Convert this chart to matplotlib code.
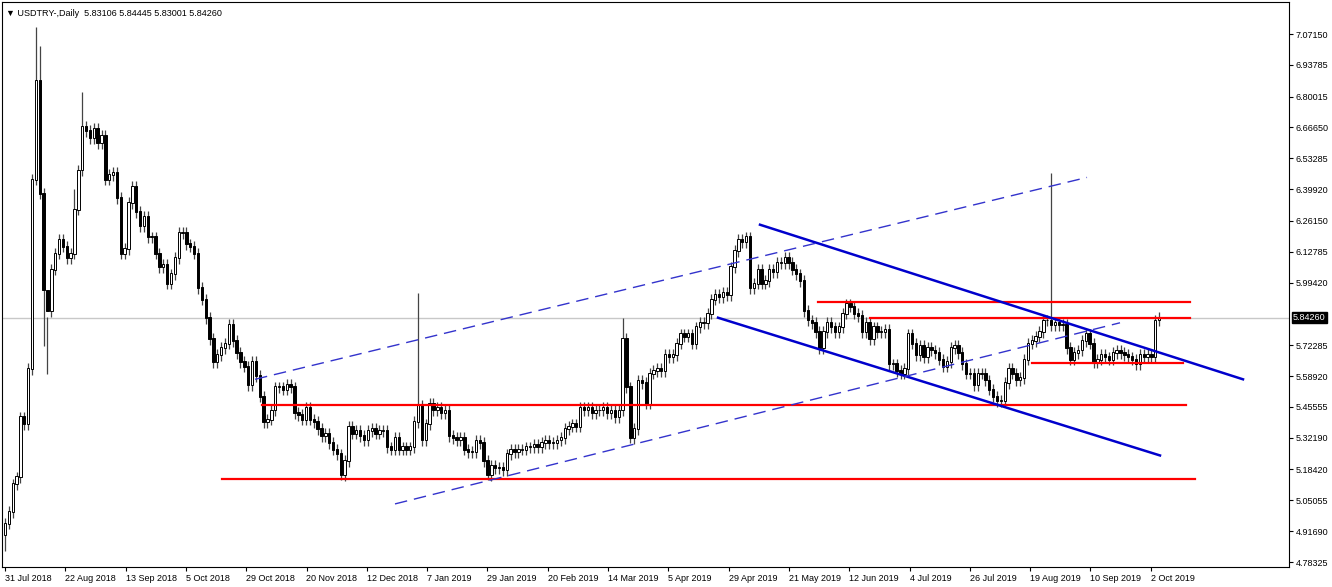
import matplotlib
matplotlib.use("Agg")
import matplotlib.pyplot as plt
import numpy as np

plt.rcParams["font.family"] = ["Liberation Sans", "DejaVu Sans"]

# daily closes (open = previous close)
CLOSES = [
    4.95, 5.00, 5.12, 5.15, 5.41, 5.38, 5.62,
    6.44, 6.87, 6.38, 5.96, 5.87, 6.05, 6.12, 6.18, 6.15, 6.10,
    6.12, 6.31, 6.48, 6.67, 6.65, 6.62, 6.66, 6.60, 6.63, 6.44,
    6.46, 6.47, 6.36, 6.12, 6.14, 6.34, 6.41, 6.30, 6.24, 6.28,
    6.19, 6.19, 6.12, 6.06, 6.07, 5.99, 6.03, 6.10, 6.21, 6.21,
    6.16, 6.15, 6.12, 5.97, 5.92, 5.84, 5.75, 5.65, 5.68, 5.71,
    5.73, 5.81, 5.74, 5.69, 5.65, 5.63, 5.55, 5.65, 5.59, 5.50,
    5.39, 5.40, 5.44, 5.54, 5.54, 5.53, 5.55, 5.54, 5.43, 5.42,
    5.40, 5.45, 5.40, 5.39, 5.36, 5.33, 5.34, 5.30, 5.27, 5.25,
    5.16, 5.22, 5.37, 5.34, 5.35, 5.33, 5.31, 5.35, 5.36, 5.34,
    5.35, 5.35, 5.28, 5.27, 5.32, 5.27, 5.28, 5.27, 5.28, 5.39,
    5.46, 5.31, 5.38, 5.47, 5.44, 5.45, 5.43, 5.44, 5.33, 5.32,
    5.31, 5.32, 5.27, 5.26, 5.26, 5.31, 5.30, 5.22, 5.16, 5.20,
    5.19, 5.19, 5.18, 5.25, 5.27, 5.26, 5.27, 5.27, 5.28, 5.28,
    5.29, 5.28, 5.30, 5.31, 5.30, 5.30, 5.31, 5.32, 5.36, 5.37,
    5.38, 5.37, 5.45, 5.44, 5.45, 5.43, 5.44, 5.44, 5.45, 5.43,
    5.44, 5.41, 5.44, 5.75, 5.54, 5.32, 5.36, 5.57, 5.56, 5.47,
    5.60, 5.61, 5.62, 5.61, 5.68, 5.67, 5.68, 5.73, 5.77, 5.76,
    5.77, 5.73, 5.80, 5.82, 5.82, 5.86, 5.92, 5.94, 5.93, 5.95,
    5.94, 6.06, 6.13, 6.18, 6.17, 6.19, 5.97, 5.99, 6.05, 5.99,
    6.00, 6.05, 6.04, 6.08, 6.08, 6.10, 6.08, 6.05, 6.03, 6.00,
    5.87, 5.83, 5.82, 5.78, 5.71, 5.78, 5.82, 5.80, 5.78, 5.80,
    5.86, 5.90, 5.89, 5.86, 5.85, 5.78, 5.82, 5.75, 5.80, 5.78,
    5.78, 5.79, 5.64, 5.64, 5.61, 5.60, 5.62, 5.77, 5.73, 5.68,
    5.72, 5.67, 5.71, 5.70, 5.69, 5.66, 5.63, 5.65, 5.71, 5.72,
    5.69, 5.64, 5.60, 5.60, 5.55, 5.60, 5.60, 5.57, 5.53, 5.50,
    5.48, 5.48, 5.56, 5.62, 5.60, 5.57, 5.58, 5.66, 5.73, 5.74,
    5.76, 5.78, 5.83, 5.83, 5.81, 5.82, 5.81, 5.81, 5.71, 5.66,
    5.69, 5.70, 5.74, 5.77, 5.73, 5.65, 5.66, 5.68, 5.67, 5.66,
    5.69, 5.70, 5.69, 5.68, 5.67, 5.66, 5.64, 5.68, 5.67, 5.68,
    5.67, 5.83, 5.84,
]
FIRST_OPEN = 4.90
# bars whose wick runs far beyond the body: (bar index, high) / (bar index, low)
SPIKES = [(8, 7.10), (9, 7.02), (18, 6.40), (20, 6.82), (11, 5.60), (107, 5.95),
          (160, 5.84), (271, 6.47)]
LOW_SPIKES = [(0, 4.83), (10, 5.72), (87, 5.14), (125, 5.14), (162, 5.30)]

DATE_LABELS = ["31 Jul 2018", "22 Aug 2018", "13 Sep 2018", "5 Oct 2018", "29 Oct 2018",
               "20 Nov 2018", "12 Dec 2018", "7 Jan 2019", "29 Jan 2019", "20 Feb 2019",
               "14 Mar 2019", "5 Apr 2019", "29 Apr 2019", "21 May 2019", "12 Jun 2019",
               "4 Jul 2019", "26 Jul 2019", "19 Aug 2019", "10 Sep 2019", "2 Oct 2019"]
PRICE_TICKS = [7.07150, 6.93785, 6.80015, 6.66650, 6.53285, 6.39920, 6.26150, 6.12785,
               5.99420, 5.72285, 5.58920, 5.45555, 5.32190, 5.18420, 5.05055, 4.91690, 4.78325]
LAST = 5.84260

# drawn levels, in chart pixels along x: (x start, x end, price)
RED_LEVELS = [(818, 1190, 5.91), (870, 1190, 5.842), (1032, 1183, 5.645),
              (262, 1186, 5.462), (222, 1195, 5.142)]
BLUE_SOLID = [((760, 6.245), (1243, 5.575)), ((718, 5.842), (1160, 5.245))]
BLUE_DASHED = [((255, 5.575), (1087, 6.45)), ((395, 5.035), (1120, 5.82))]

PX = 3.86  # pixels per bar


def bar(px):
    return (px - 5) / PX


W, H = 1332, 587
fig = plt.figure(figsize=(W / 100, H / 100), dpi=100, facecolor="white")
ax = fig.add_axes([2 / W, 1 - 567 / H, 1287 / W, 565 / H])

closes = np.array(CLOSES)
opens = np.concatenate([[FIRST_OPEN], closes[:-1]])
highs = np.maximum(opens, closes) + 0.025
lows = np.minimum(opens, closes) - 0.025
for i, h in SPIKES:
    highs[i] = h
for i, l in LOW_SPIKES:
    lows[i] = l
x = np.arange(len(closes))

ax.axhline(LAST, color="#c8c8c8", lw=1, zorder=1)
ax.vlines(x, lows, highs, color="#444444", lw=0.9, zorder=2)
up = closes >= opens
bw = 0.62
ax.bar(x[up], (closes - opens)[up] + 0.004, bottom=opens[up], width=bw,
       color="white", edgecolor="black", linewidth=0.7, zorder=3)
ax.bar(x[~up], (opens - closes)[~up] + 0.004, bottom=closes[~up], width=bw,
       color="black", edgecolor="black", linewidth=0.7, zorder=3)

for x0, x1, p in RED_LEVELS:
    ax.plot([bar(x0), bar(x1)], [p, p], color="#ff0000", lw=1.6, zorder=4)
for (x0, y0), (x1, y1) in BLUE_SOLID:
    ax.plot([bar(x0), bar(x1)], [y0, y1], color="#0000cc", lw=1.8, zorder=4)
for (x0, y0), (x1, y1) in BLUE_DASHED:
    ax.plot([bar(x0), bar(x1)], [y0, y1], color="#3333cc", lw=1.0, ls=(0, (9, 5)), zorder=4)

ax.set_xlim(bar(2), bar(1289))
ax.set_ylim(4.7616, 7.2102)
ax.yaxis.tick_right()
ax.set_yticks(PRICE_TICKS)
ax.set_yticklabels([f"{v:.5f}" for v in PRICE_TICKS], fontsize=6.5)
ax.set_xticks([bar(5 + 60.3 * k) for k in range(len(DATE_LABELS))])
ax.set_xticklabels(DATE_LABELS, fontsize=6.5, ha="left")
ax.tick_params(length=3, width=0.8, pad=2, colors="black")
for s in ax.spines.values():
    s.set_linewidth(0.8)
ax.text(1.003, (LAST - 4.7616) / (7.2102 - 4.7616), f"{LAST:.5f}", transform=ax.transAxes,
        fontsize=6.5, color="white", va="center", ha="left",
        bbox=dict(boxstyle="square,pad=0.15", fc="black", ec="black"), clip_on=False)
ax.text(0.003, 0.988, "\u25bc USDTRY-,Daily  5.83106 5.84445 5.83001 5.84260",
        transform=ax.transAxes, fontsize=6.5, va="top", ha="left")

fig.savefig("out.png", dpi=100, facecolor="white")
